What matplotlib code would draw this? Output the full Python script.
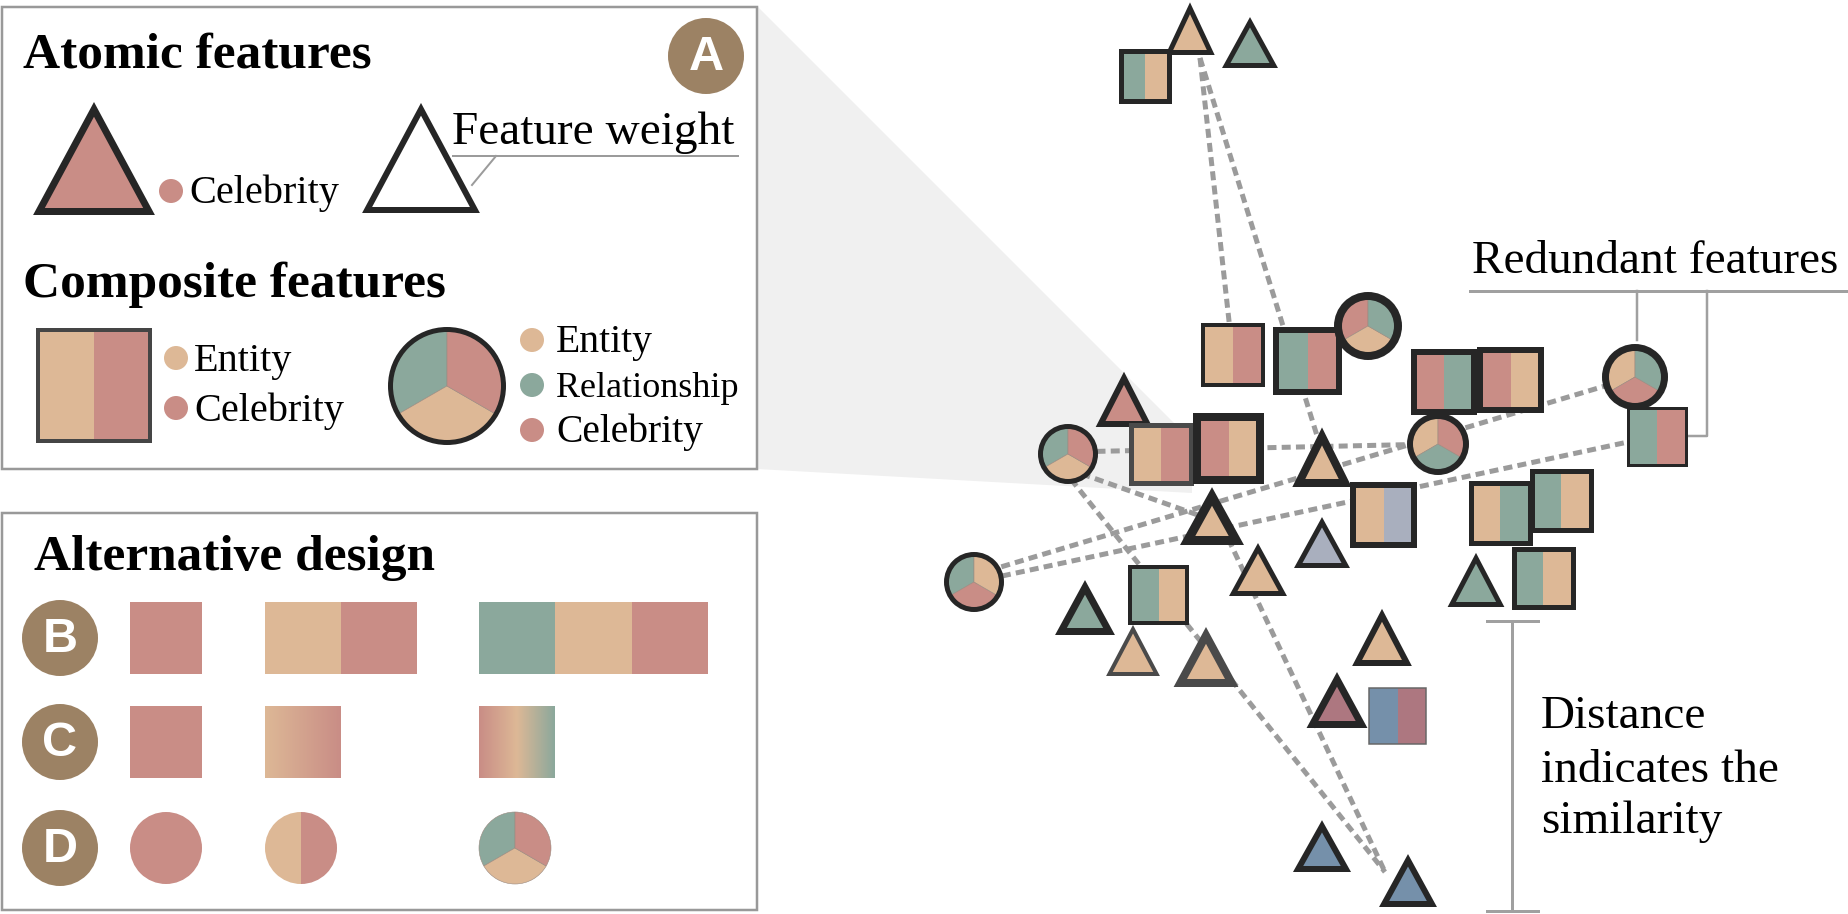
"""Feature glyph overview: legend of glyph encodings, alternative designs,
and a similarity projection of features with redundant-feature links."""

import numpy as np
import matplotlib.pyplot as plt
import matplotlib as mpl
from matplotlib.patches import Polygon, Rectangle, Circle, Wedge
from matplotlib.colors import to_rgb

# -- Colours --
PINK = "#C98D86"
TAN = "#DDB896"
TEAL = "#8BA89C"
GREYBLUE = "#A9AFBE"
BLUE = "#7590AA"
MAUVE = "#AD7780"
DARK = "#262626"
GREYEDGE = "#4A4A4A"
BADGE = "#9C8264"
LINE = "#9B9B9B"
WEDGE_BG = "#F0F0F0"

W, H = 1848, 914
PX = 0.72  # points per pixel at dpi 100

# -- Projection data (pixel space of the right-hand view) --
# atomic features: triangles (centre x, top, bottom, width, fill, edge, stroke)
tri_x = [1190, 1250, 1124, 1322, 1212, 1322, 1258, 1476, 1085, 1133, 1206, 1382, 1337, 1322, 1408]
tri_top = [3, 17, 372, 428, 487, 517, 543, 553, 580, 625, 627, 609, 672, 820, 854]
tri_bot = [55, 68, 427, 487, 545, 568, 596, 607, 635, 676, 687, 666, 728, 872, 907]
tri_w = [50, 56, 57, 60, 64, 56, 58, 57, 60, 54, 65, 60, 61, 58, 58]
tri_fill = [TAN, TEAL, PINK, TAN, TAN, GREYBLUE, TAN, TEAL, TEAL, TAN, TAN, TAN, MAUVE, BLUE, BLUE]
tri_edge = [DARK] * 9 + [GREYEDGE, GREYEDGE] + [DARK] * 4
tri_weight = [5, 5, 6, 8, 9, 5, 5, 5, 7, 4, 8, 6, 7, 6, 6]

# two-part composite features: squares (x0, y0, x1, y1, left, right, edge, stroke)
sq_x0 = [1118, 1201, 1273, 1411, 1477, 1626, 1128, 1193, 1350, 1468, 1529, 1511, 1128, 1368]
sq_y0 = [48, 323, 327, 349, 347, 406, 422, 413, 482, 480, 468, 546, 565, 687]
sq_x1 = [1171, 1265, 1342, 1477, 1544, 1687, 1193, 1264, 1417, 1532, 1593, 1575, 1189, 1427]
sq_y1 = [103, 387, 395, 415, 413, 466, 485, 484, 548, 545, 532, 609, 625, 745]
sq_left = [TEAL, TAN, TEAL, PINK, PINK, TEAL, TAN, PINK, TAN, TAN, TEAL, TEAL, TEAL, BLUE]
sq_right = [TAN, PINK, PINK, TEAL, TAN, PINK, PINK, TAN, GREYBLUE, TEAL, TAN, TAN, TAN, MAUVE]
sq_edge = [DARK] * 6 + [GREYEDGE] + [DARK] * 6 + ["#666666"]
sq_weight = [5, 4, 6, 6, 6, 3, 5, 8, 6, 5, 5, 5, 4, 1.5]

# three-part composite features: pies (centre, radius, top-left, top-right, bottom)
pie_x = [1368, 1438, 1635, 1068, 974]
pie_y = [326, 444, 377, 454, 582]
pie_r = [34, 31, 33, 30, 30]
pie_tl = [PINK, TAN, TAN, TEAL, TEAL]
pie_tr = [TEAL, PINK, TEAL, PINK, TAN]
pie_bot = [TAN, TEAL, PINK, TAN, PINK]
pie_weight = [8, 6, 7, 5, 5]

# dashed similarity links (x0, y0, x1, y1)
link_x0 = [1200, 1200, 1068, 1068, 1062, 1210, 974, 974]
link_y0 = [58, 58, 452, 469, 468, 500, 575, 582]
link_x1 = [1230, 1323, 1437, 1212, 1385, 1385, 1635, 1656]
link_y1 = [330, 455, 444, 520, 872, 872, 377, 436]


def draw_tri(ax, cx, top, bot, w, fill, edge, lw, z=3):
    verts = [(cx, top + 1.05 * lw), (cx + w / 2 - 0.85 * lw, bot - lw / 2),
             (cx - w / 2 + 0.85 * lw, bot - lw / 2)]
    ax.add_patch(Polygon(verts, closed=True, facecolor=fill, edgecolor=edge,
                         linewidth=lw * PX, joinstyle="miter", zorder=z))


def draw_square(ax, x0, y0, x1, y1, colors, edge, lw, z=3):
    ix0, iy0, ix1, iy1 = x0 + lw / 2, y0 + lw / 2, x1 - lw / 2, y1 - lw / 2
    n = len(colors)
    step = (ix1 - ix0) / n
    for i, c in enumerate(colors):
        ax.add_patch(Rectangle((ix0 + i * step, iy0), step, iy1 - iy0,
                               facecolor=c, edgecolor="none", zorder=z))
    if lw > 0:
        ax.add_patch(Rectangle((ix0, iy0), ix1 - ix0, iy1 - iy0, fill=False,
                               edgecolor=edge, linewidth=lw * PX,
                               joinstyle="miter", zorder=z + 0.01))


def draw_pie(ax, cx, cy, r, tl, tr, bot, edge, lw, z=3):
    rr = r - lw / 2
    # screen angles (counter-clockwise, y up); y axis is inverted so negate
    for (a1, a2), c in zip([(90, 210), (210, 330), (-30, 90)], [tl, bot, tr]):
        ax.add_patch(Wedge((cx, cy), rr, -a2, -a1, facecolor=c,
                           edgecolor="#9a8a80", linewidth=0.4, zorder=z))
    if lw > 0:
        ax.add_patch(Circle((cx, cy), rr, fill=False, edgecolor=edge,
                            linewidth=lw * PX, zorder=z + 0.01))


def badge(ax, cx, cy, letter):
    ax.add_patch(Circle((cx, cy), 38, facecolor=BADGE, edgecolor="none", zorder=3))
    ax.text(cx, cy + 1, letter, ha="center", va="center", color="white",
            fontsize=35, fontweight="bold", family="Liberation Sans", zorder=4)


def dot(ax, cx, cy, c, r=12):
    ax.add_patch(Circle((cx, cy), r, facecolor=c, edgecolor="none", zorder=3))


def main():
    mpl.rcParams.update({"font.family": "Liberation Serif"})
    fig = plt.figure(figsize=(W / 100, H / 100), dpi=100)
    ax = fig.add_axes([0, 0, 1, 1])
    ax.set_xlim(0, W)
    ax.set_ylim(H, 0)
    ax.axis("off")

    # zoom wedge from panel A into the projection
    ax.add_patch(Polygon([(757, 6), (1192, 441), (1192, 493), (757, 469)],
                         closed=True, facecolor=WEDGE_BG, edgecolor="none", zorder=0))

    # -- Panel A --
    ax.add_patch(Rectangle((2, 7), 755, 462, facecolor="white", edgecolor="#999999",
                           linewidth=2.5 * PX, zorder=1))
    ax.text(23, 67, "Atomic features", fontsize=37, fontweight="bold", va="baseline", zorder=4)
    badge(ax, 706, 56, "A")
    draw_tri(ax, 94, 102, 215, 122, PINK, DARK, 7)
    dot(ax, 171, 191, PINK)
    ax.text(189, 203, "Celebrity", fontsize=29, va="baseline", zorder=4)
    draw_tri(ax, 421, 103, 213, 118, "white", DARK, 6)
    ax.text(452, 144, "Feature weight", fontsize=34, va="baseline", zorder=4)
    ax.plot([453, 738], [156, 156], color=LINE, lw=2 * PX, zorder=2)
    ax.plot([496, 472], [156, 185], color=LINE, lw=2 * PX, zorder=2)

    ax.text(23, 297, "Composite features", fontsize=37, fontweight="bold", va="baseline", zorder=4)
    draw_square(ax, 36, 328, 152, 443, [TAN, PINK], "#454545", 4)
    dot(ax, 176, 358, TAN)
    dot(ax, 176, 408, PINK)
    ax.text(194, 371, "Entity", fontsize=29, va="baseline", zorder=4)
    ax.text(194, 421, "Celebrity", fontsize=29, va="baseline", zorder=4)
    draw_pie(ax, 447, 386, 59, TEAL, PINK, TAN, DARK, 5)
    for yy, c, label, fs in [(340, TAN, "Entity", 28.5), (385, TEAL, "Relationship", 26),
                             (430, PINK, "Celebrity", 28.5)]:
        dot(ax, 532, yy, c)
        ax.text(556, yy + 12, label, fontsize=fs, va="baseline", zorder=4)

    # -- Panel B/C/D: alternative designs --
    ax.add_patch(Rectangle((2, 513), 755, 397, facecolor="white", edgecolor="#999999",
                           linewidth=2.5 * PX, zorder=1))
    ax.text(34, 570, "Alternative design", fontsize=37, fontweight="bold", va="baseline", zorder=4)
    badge(ax, 60, 638, "B")
    badge(ax, 60, 742, "C")
    badge(ax, 60, 848, "D")

    draw_square(ax, 130, 602, 202, 674, [PINK], None, 0)
    draw_square(ax, 265, 602, 417, 674, [TAN, PINK], None, 0)
    draw_square(ax, 479, 602, 708, 674, [TEAL, TAN, PINK], None, 0)

    draw_square(ax, 130, 706, 202, 778, [PINK], None, 0)
    for (x0, x1), stops in [((265, 341), [TAN, PINK]), ((479, 555), [PINK, TAN, TEAL])]:
        rgb = np.array([to_rgb(c) for c in stops])
        t = np.linspace(0, 1, 200)
        pos = np.linspace(0, 1, len(stops))
        grad = np.stack([np.interp(t, pos, rgb[:, k]) for k in range(3)], axis=-1)[None, :, :]
        ax.imshow(grad, extent=[x0, x1, 778, 706], aspect="auto", zorder=3,
                  interpolation="bilinear")

    dot(ax, 166, 848, PINK, r=36)
    for (a1, a2), c in zip([(90, 270), (-90, 90)], [TAN, PINK]):
        ax.add_patch(Wedge((301, 848), 36, -a2, -a1, facecolor=c, edgecolor="none", zorder=3))
    draw_pie(ax, 515, 848, 36, TEAL, PINK, TAN, None, 0)

    # -- Projection view --
    for x0, y0, x1, y1 in zip(link_x0, link_y0, link_x1, link_y1):
        ax.plot([x0, x1], [y0, y1], color=LINE, lw=5 * PX,
                linestyle=(0, (1.8, 1.05)), dash_capstyle="butt", zorder=1.5)

    # draw order matters for overlaps
    order = [("t", 0), ("s", 0), ("t", 1), ("s", 1), ("s", 2), ("p", 0),
             ("s", 3), ("s", 4), ("p", 1), ("s", 5), ("p", 2),
             ("t", 2), ("s", 6), ("s", 7), ("p", 3), ("s", 8), ("t", 3),
             ("t", 4), ("t", 5), ("t", 6), ("s", 9), ("s", 10), ("s", 11),
             ("t", 7), ("p", 4), ("t", 8), ("s", 12), ("t", 9), ("t", 10),
             ("t", 11), ("s", 13), ("t", 12), ("t", 13), ("t", 14)]
    for k, (kind, i) in enumerate(order):
        z = 3 + k * 0.02
        if kind == "t":
            draw_tri(ax, tri_x[i], tri_top[i], tri_bot[i], tri_w[i], tri_fill[i],
                     tri_edge[i], tri_weight[i], z)
        elif kind == "s":
            draw_square(ax, sq_x0[i], sq_y0[i], sq_x1[i], sq_y1[i],
                        [sq_left[i], sq_right[i]], sq_edge[i], sq_weight[i], z)
        else:
            draw_pie(ax, pie_x[i], pie_y[i], pie_r[i], pie_tl[i], pie_tr[i],
                     pie_bot[i], DARK, pie_weight[i], z)

    # redundant features bracket
    ax.text(1472, 273, "Redundant features", fontsize=34, va="baseline", zorder=4)
    ax.plot([1470, W], [291, 291], color="#A0A0A0", lw=3 * PX, zorder=2)
    ax.plot([1637, 1637], [291, 340], color="#A0A0A0", lw=2.5 * PX, zorder=2)
    ax.plot([1707, 1707, 1687], [291, 436, 436], color="#A0A0A0", lw=2.5 * PX, zorder=2)

    # distance scale bar
    ax.plot([1512, 1512], [621, 911], color="#A0A0A0", lw=3 * PX, zorder=2)
    ax.plot([1487, 1538], [621, 621], color="#A0A0A0", lw=3 * PX, zorder=2)
    ax.plot([1487, 1538], [911, 911], color="#A0A0A0", lw=3 * PX, zorder=2)
    for yy, s in [(728, "Distance"), (782, "indicates the"), (833, "similarity")]:
        ax.text(1541, yy, s, fontsize=34, va="baseline", zorder=4)

    ax.set_xlim(0, W)
    ax.set_ylim(H, 0)
    fig.savefig("out.png", dpi=100)
    plt.close(fig)


if __name__ == "__main__":
    main()
